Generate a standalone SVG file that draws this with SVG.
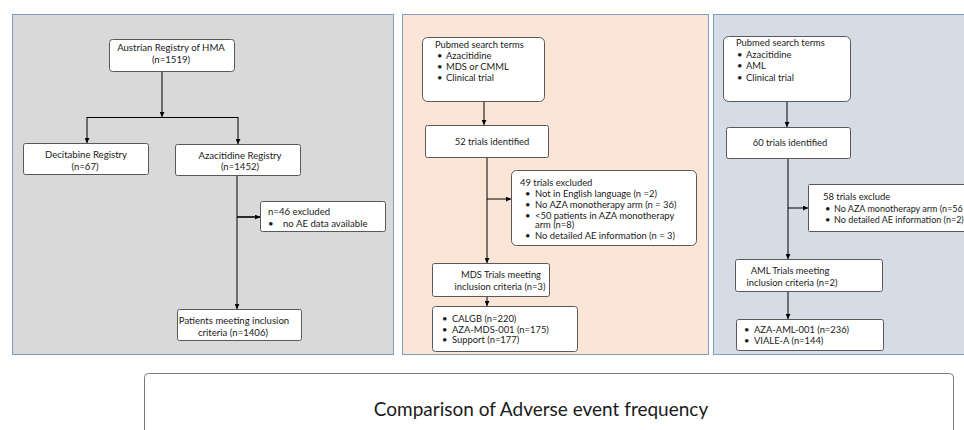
<svg xmlns="http://www.w3.org/2000/svg" width="964" height="430" viewBox="0 0 964 430">
<defs>
<marker id="ah" viewBox="0 0 10 10" refX="10" refY="5" markerWidth="5" markerHeight="5" orient="auto" markerUnits="userSpaceOnUse">
<path d="M0,0 L10,5 L0,10 z" fill="#000"/>
</marker>
<style>
.panel{stroke:#7f9cc4;stroke-width:1}
.box{fill:#fff;stroke:#595959;stroke-width:1}
.t{font-family:Lato,"Liberation Sans",sans-serif;fill:#1a1a1a}
.p1{font-size:9.6px}
.p2{font-size:9.4px}
.m{text-anchor:middle}
.c{fill:none;stroke:#000;stroke-width:1}
.ca{fill:none;stroke:#000;stroke-width:1;marker-end:url(#ah)}
</style>
</defs>
<rect width="964" height="430" fill="#fff"/>
<rect class="panel" x="12.5" y="14.5" width="381" height="340" fill="#d9d9d9"/>
<rect class="panel" x="402.5" y="14.5" width="306" height="340" fill="#fbe5d6"/>
<rect class="panel" x="713.5" y="14.5" width="260" height="340" fill="#d6dce5"/>

<g id="connectors">
<line class="ca" x1="162" y1="71" x2="162" y2="117"/>
<line class="c" x1="87" y1="117.5" x2="238" y2="117.5"/>
<line class="ca" x1="87" y1="117" x2="87" y2="143"/>
<line class="ca" x1="238" y1="117" x2="238" y2="144"/>
<line class="ca" x1="237" y1="175" x2="237" y2="309"/>
<line class="ca" x1="237" y1="217" x2="260" y2="217" style="stroke-width:1.6"/>

<line class="ca" x1="484" y1="101" x2="484" y2="125"/>
<line class="ca" x1="487" y1="157" x2="487" y2="263"/>
<line class="ca" x1="487" y1="199" x2="511" y2="199"/>
<line class="ca" x1="487" y1="297" x2="487" y2="306"/>

<line class="ca" x1="787" y1="101" x2="787" y2="127"/>
<line class="ca" x1="788" y1="158" x2="788" y2="259"/>
<line class="ca" x1="788" y1="208" x2="808" y2="208"/>
<line class="ca" x1="788" y1="291" x2="788" y2="319"/>
</g>

<g id="austrian">
<rect class="box" x="109.5" y="39.5" width="125" height="32" rx="3"/>
<text class="t p1 m" x="171" y="50.5">Austrian Registry of HMA</text>
<text class="t p1 m" x="171" y="62.5">(n=1519)</text>
</g>
<g id="decitabine">
<rect class="box" x="23.5" y="143.5" width="125" height="31" rx="2"/>
<text class="t p1 m" x="86" y="157.5">Decitabine Registry</text>
<text class="t p1 m" x="85" y="169.5">(n=67)</text>
</g>
<g id="azacitidine">
<rect class="box" x="175.5" y="144.5" width="125" height="31" rx="2"/>
<text class="t p1 m" x="240" y="158.5">Azacitidine Registry</text>
<text class="t p1 m" x="240" y="170">(n=1452)</text>
</g>
<g id="excluded46">
<rect class="box" x="260.5" y="201.5" width="125" height="30" rx="2"/>
<text class="t p1" x="268" y="214.5">n=46 excluded</text>
<text class="t p1" x="268" y="226.5">•</text>
<text class="t p1" x="283" y="226.5">no AE data available</text>
</g>
<g id="patients">
<rect class="box" x="177.5" y="309.5" width="124" height="31" rx="2"/>
<text class="t p1 m" x="234" y="323.5">Patients meeting inclusion</text>
<text class="t p1 m" x="233" y="335.5">criteria (n=1406)</text>
</g>

<g id="pubmed-mds">
<rect class="box" x="422.5" y="37.5" width="122" height="64" rx="5"/>
<text class="t p2" x="435" y="47.5">Pubmed  search terms</text>
<text class="t p2" x="437" y="59">•</text><text class="t p2" x="446" y="59">Azacitidine</text>
<text class="t p2" x="437" y="70">•</text><text class="t p2" x="446" y="70">MDS or CMML</text>
<text class="t p2" x="437" y="81">•</text><text class="t p2" x="446" y="81">Clinical trial</text>
</g>
<g id="trials52">
<rect class="box" x="425.5" y="125.5" width="123" height="32" rx="2"/>
<text class="t p2 m" x="492" y="144.5">52 trials identified</text>
</g>
<g id="excluded49">
<rect class="box" x="511.5" y="170.5" width="185" height="75" rx="5"/>
<text class="t p2" x="520" y="185.5">49 trials excluded</text>
<text class="t p2" x="525" y="196.5">•</text><text class="t p2" x="535" y="196.5">Not in English language (n =2)</text>
<text class="t p2" x="525" y="207.5">•</text><text class="t p2" x="535" y="207.5">No AZA monotherapy  arm (n = 36)</text>
<text class="t p2" x="525" y="218.5">•</text><text class="t p2" x="535" y="218.5">&lt;50 patients in AZA monotherapy</text>
<text class="t p2" x="535" y="228">arm (n=8)</text>
<text class="t p2" x="525" y="238.5">•</text><text class="t p2" x="535" y="238.5">No detailed AE information  (n = 3)</text>
</g>
<g id="mds-trials">
<rect class="box" x="432.5" y="263.5" width="117" height="33" rx="2"/>
<text class="t p2 m" x="501" y="277.5">MDS Trials meeting</text>
<text class="t p2 m" x="500" y="290">inclusion criteria (n=3)</text>
</g>
<g id="mds-list">
<rect class="box" x="432.5" y="306.5" width="145" height="45" rx="3"/>
<text class="t p2" x="442" y="322">•</text><text class="t p2" x="452" y="322">CALGB (n=220)</text>
<text class="t p2" x="442" y="332.5">•</text><text class="t p2" x="452" y="332.5">AZA-MDS-001 (n=175)</text>
<text class="t p2" x="442" y="343">•</text><text class="t p2" x="452" y="343">Support  (n=177)</text>
</g>

<g id="pubmed-aml">
<rect class="box" x="723.5" y="36.5" width="127" height="65" rx="5"/>
<text class="t p2" x="736" y="46">Pubmed  search terms</text>
<text class="t p2" x="737" y="57.5">•</text><text class="t p2" x="746" y="57.5">Azacitidine</text>
<text class="t p2" x="737" y="69">•</text><text class="t p2" x="746" y="69">AML</text>
<text class="t p2" x="737" y="80.5">•</text><text class="t p2" x="746" y="80.5">Clinical trial</text>
</g>
<g id="trials60">
<rect class="box" x="726.5" y="127.5" width="124" height="31" rx="2"/>
<text class="t p2 m" x="790" y="145.5">60 trials identified</text>
</g>
<g id="excluded58">
<rect class="box" x="808.5" y="184.5" width="170" height="47" rx="1"/>
<text class="t p2" x="823" y="199.5">58 trials exclude</text>
<text class="t p2" x="825" y="211.5">•</text><text class="t" x="834" y="211.5" style="font-size:9px">No AZA monotherapy  arm (n=56</text>
<text class="t p2" x="825" y="222.5">•</text><text class="t" x="834" y="222.5" style="font-size:9px">No detailed AE information  (n=2)</text>
</g>
<g id="aml-trials">
<rect class="box" x="735.5" y="259.5" width="147" height="32" rx="2"/>
<text class="t p2 m" x="790" y="274">AML Trials meeting</text>
<text class="t p2 m" x="792" y="285.5">inclusion criteria (n=2)</text>
</g>
<g id="aml-list">
<rect class="box" x="736.5" y="319.5" width="147" height="31" rx="2"/>
<text class="t p2" x="744" y="332.5">•</text><text class="t p2" x="754" y="332.5">AZA-AML-001 (n=236)</text>
<text class="t p2" x="744" y="343.5">•</text><text class="t p2" x="754" y="343.5">VIALE-A (n=144)</text>
</g>

<g id="comparison">
<rect class="box" x="144.5" y="373.5" width="809" height="80" rx="4" style="stroke:#7a7a7a"/>
<text class="t m" x="541" y="416" style="font-size:19px">Comparison of Adverse event frequency</text>
</g>
</svg>
